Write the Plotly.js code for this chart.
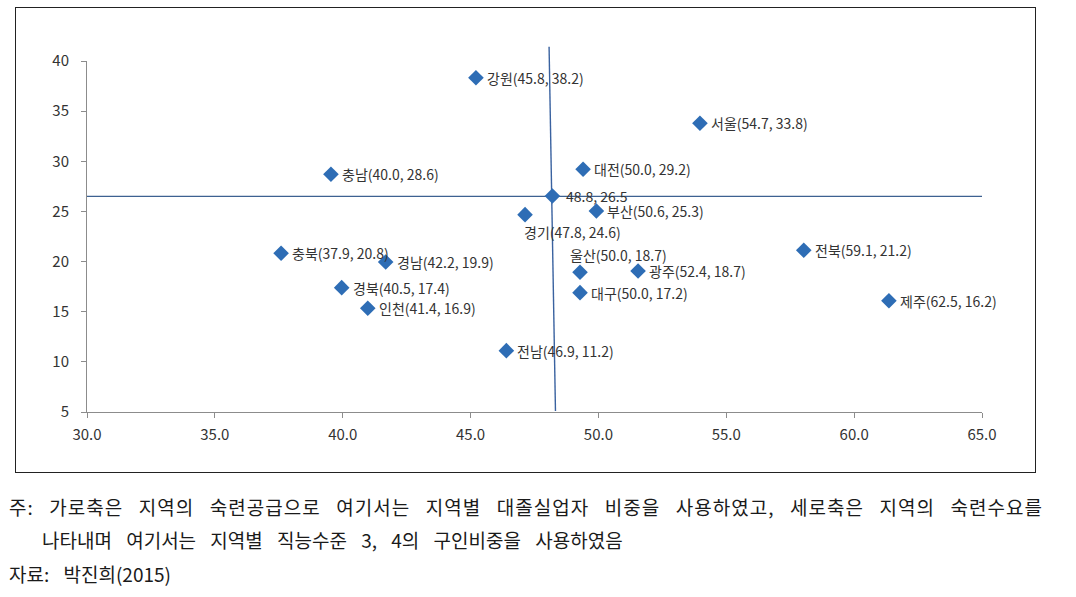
<!DOCTYPE html>
<html>
<head>
<meta charset="utf-8">
<script src="https://cdn.plot.ly/plotly-3.0.1.min.js"></script>
<style>
  html, body { margin: 0; padding: 0; background: #fff; }
  #wrap { position: relative; width: 1076px; height: 597px; overflow: hidden; }
  #chart { position: absolute; left: 0; top: 0; width: 1076px; height: 597px; }
  #frame { position: absolute; left: 15px; top: 7px; width: 1019px; height: 464px; border: 1.5px solid #222; pointer-events: none; }
  .note { position: absolute; font-family: "Noto Sans CJK KR", sans-serif; font-size: 19px; line-height: 20px; color: #1a1a1a; white-space: nowrap; }
  #n1 { left: 9px; top: 497px; width: 1034px; letter-spacing: 1px; text-align: justify; text-align-last: justify; white-space: normal; }
  #n2 { left: 42px; top: 530px; word-spacing: 10px; }
  #n3 { left: 9px; top: 564px; word-spacing: 10px; }
</style>
</head>
<body>
<div id="wrap">
  <div id="chart"></div>
  <div id="frame"></div>
  <div class="note" id="n1">주: 가로축은 지역의 숙련공급으로 여기서는 지역별 대졸실업자 비중을 사용하였고, 세로축은 지역의 숙련수요를</div>
  <div class="note" id="n2">나타내며 여기서는 지역별 직능수준 3, 4의 구인비중을 사용하였음</div>
  <div class="note" id="n3">자료: 박진희(2015)</div>
</div>
<script>
// Region names (empty = overall average point)
const regions = ['강원','서울','충남','대전','','부산','경기','충북','경남','전북','울산','광주','대구','경북','인천','제주','전남'];
// Values as printed in the labels (skill supply %, skill demand %)
const labelSupply = [45.8,54.7,40.0,50.0,48.8,50.6,47.8,37.9,42.2,59.1,50.0,52.4,50.0,40.5,41.4,62.5,46.9];
const labelDemand = [38.2,33.8,28.6,29.2,26.5,25.3,24.6,20.8,19.9,21.2,18.7,18.7,17.2,17.4,16.9,16.2,11.2];
// Marker positions
const plotSupply = [45.21,53.97,39.54,49.40,48.20,49.92,47.13,37.59,41.68,58.03,49.28,51.55,49.28,39.96,40.98,61.36,46.40];
const plotDemand = [38.33,33.79,28.70,29.20,26.54,25.04,24.68,20.83,19.96,21.13,18.93,19.06,16.90,17.40,15.34,16.10,11.12];
// Label placement relative to marker
const labelPlace = ['right','right','right','right','rightwide','right','below','right','right','right','above','right','right','right','right','right','right'];
// Average reference lines
const avgDemand = 26.5;
const avgLineSupply = [48.07, 48.32];
const avgLineDemand = [41.43, 5.1];
// Axes
const xRange = [30, 65];
const yRange = [5, 40];

const labels = regions.map((r, i) => {
  const v = labelSupply[i].toFixed(1) + ', ' + labelDemand[i].toFixed(1);
  return r ? r + '(' + v + ')' : v;
});

const placeCfg = {
  right:     {xshift: 9,  yshift: 0,   xanchor: 'left'},
  rightwide: {xshift: 12, yshift: 0,   xanchor: 'left'},
  below:     {xshift: -3, yshift: -17, xanchor: 'left'},
  above:     {xshift: -12, yshift: 17, xanchor: 'left'}
};

const annotations = labels.map((t, i) => {
  const c = placeCfg[labelPlace[i]];
  return {
    x: plotSupply[i], y: plotDemand[i], xref: 'x', yref: 'y',
    text: t, showarrow: false,
    xanchor: c.xanchor, yanchor: 'middle',
    xshift: c.xshift, yshift: c.yshift,
    font: {family: 'Noto Sans CJK KR, sans-serif', size: 14, color: '#333'}
  };
});

const toPaperY = v => (v - yRange[0]) / (yRange[1] - yRange[0]);

const shapes = [
  {type: 'line', xref: 'x', yref: 'y', x0: xRange[0], x1: xRange[1], y0: avgDemand, y1: avgDemand,
   line: {color: '#3d6191', width: 1.2}, layer: 'below'},
  {type: 'line', xref: 'x', yref: 'paper',
   x0: avgLineSupply[0], y0: toPaperY(avgLineDemand[0]),
   x1: avgLineSupply[1], y1: toPaperY(avgLineDemand[1]),
   line: {color: '#3a62a0', width: 1.4}, layer: 'below'}
];

const trace = {
  type: 'scatter', mode: 'markers',
  x: plotSupply, y: plotDemand,
  marker: {symbol: 'diamond', size: 12, color: '#2e6db5', line: {width: 0}},
  hoverinfo: 'skip'
};

const axisFont = {family: 'Noto Sans CJK KR, sans-serif', size: 15, color: '#333'};

const layout = {
  width: 1076, height: 597,
  margin: {l: 87, r: 94, t: 61, b: 185},
  paper_bgcolor: '#fff', plot_bgcolor: '#fff',
  showlegend: false,
  xaxis: {
    range: xRange, dtick: 5, tick0: 30, tickformat: '.1f',
    showgrid: false, zeroline: false,
    showline: true, linecolor: '#8c8c8c', linewidth: 1,
    ticks: 'outside', ticklen: 5, tickcolor: '#8c8c8c', ticklabelstandoff: 4,
    tickfont: axisFont, fixedrange: true
  },
  yaxis: {
    range: yRange, dtick: 5, tick0: 5,
    showgrid: false, zeroline: false,
    showline: true, linecolor: '#8c8c8c', linewidth: 1,
    ticks: 'outside', ticklen: 5, tickcolor: '#8c8c8c', ticklabelstandoff: 9,
    tickfont: axisFont, fixedrange: true
  },
  shapes: shapes,
  annotations: annotations
};

Plotly.newPlot('chart', [trace], layout, {staticPlot: true, displayModeBar: false});
</script>
</body>
</html>
